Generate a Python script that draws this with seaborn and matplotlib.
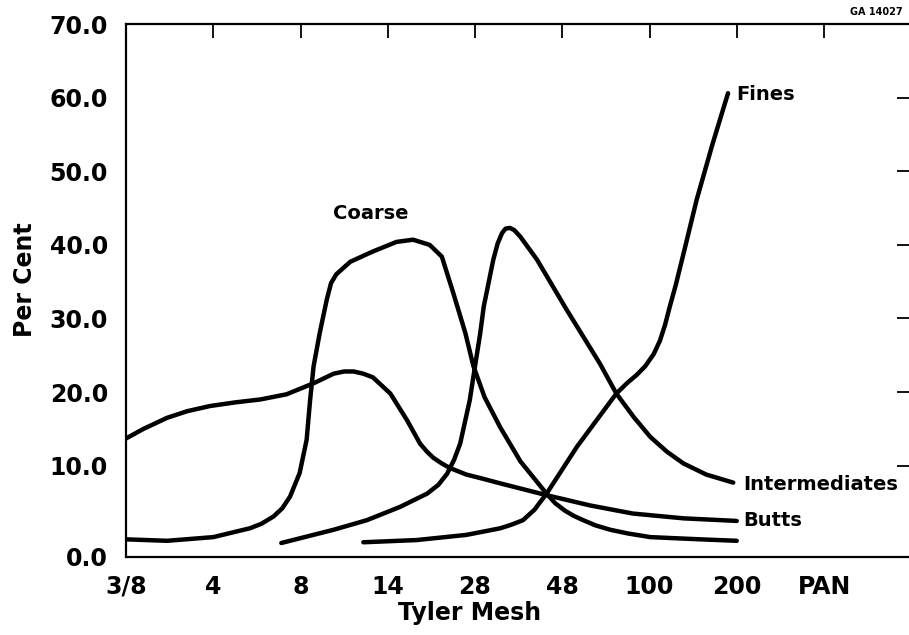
import matplotlib
matplotlib.use("Agg")
import matplotlib.pyplot as plt
import seaborn as sns
import pandas as pd

# ---- data (x in mesh-category index units, y in per cent) ----
mesh_labels = ["3/8", "4", "8", "14", "28", "48", "100", "200", "PAN"]
y_tick_values = [-2.36, 10, 20, 30, 40, 50, 60, 70]
y_tick_labels = ["0.0", "10.0", "20.0", "30.0", "40.0", "50.0", "60.0", "70.0"]

butts_x = [0.0, 0.2, 0.47, 0.7, 0.96, 1.25, 1.54, 1.84, 2.15, 2.38, 2.50, 2.61, 2.72,
           2.83, 3.03, 3.22, 3.37, 3.45, 3.52, 3.62, 3.71, 3.90, 4.10, 4.29, 4.82,
           5.32, 5.81, 6.39, 7.0]
butts_y = [13.7, 15.0, 16.5, 17.4, 18.1, 18.6, 19.0, 19.7, 21.2, 22.5, 22.8, 22.8, 22.5,
           22.0, 19.8, 16.2, 13.0, 11.9, 11.1, 10.3, 9.7, 8.8, 8.2, 7.6, 6.0,
           4.6, 3.5, 2.85, 2.5]

coarse_x = [0.0, 0.47, 1.0, 1.42, 1.55, 1.69, 1.79, 1.88, 1.99, 2.07, 2.11, 2.15, 2.22,
            2.30, 2.35, 2.41, 2.57, 2.83, 3.10, 3.29, 3.48, 3.62, 3.75, 3.89, 3.98,
            4.11, 4.29, 4.52, 4.82, 4.92, 5.03, 5.13, 5.24, 5.38, 5.55, 5.75, 6.01,
            6.58, 7.0]
coarse_y = [0.0, -0.2, 0.3, 1.5, 2.1, 3.1, 4.2, 5.8, 9.0, 13.5, 18.9, 23.5, 28.0,
            32.5, 34.8, 36.0, 37.7, 39.1, 40.4, 40.7, 40.0, 38.4, 33.5, 28.0, 23.6,
            19.3, 15.2, 10.6, 6.2, 4.9, 3.9, 3.2, 2.6, 1.9, 1.3, 0.8, 0.3,
            0.0, -0.2]

inter_x = [1.78, 2.38, 2.76, 3.14, 3.45, 3.58, 3.68, 3.76, 3.83, 3.94, 4.0, 4.06, 4.10,
           4.21, 4.26, 4.31, 4.35, 4.40, 4.45, 4.52, 4.71, 5.05, 5.43, 5.62, 5.82,
           6.01, 6.20, 6.39, 6.65, 6.96]
inter_y = [-0.5, 1.3, 2.6, 4.4, 6.2, 7.4, 8.9, 10.8, 13.0, 18.9, 23.5, 28.0, 31.6,
           38.0, 40.2, 41.6, 42.2, 42.3, 42.0, 41.1, 38.0, 31.2, 23.9, 19.8, 16.6,
           13.9, 11.9, 10.3, 8.8, 7.7]

fines_x = [2.72, 3.33, 3.90, 4.29, 4.42, 4.55, 4.68, 4.82, 5.17, 5.62, 5.75, 5.85,
           5.95, 6.05, 6.12, 6.18, 6.23, 6.30, 6.40, 6.54, 6.72, 6.90]
fines_y = [-0.4, -0.1, 0.6, 1.5, 2.0, 2.6, 4.0, 6.2, 12.6, 19.8, 21.3, 22.3,
           23.5, 25.2, 27.0, 29.2, 31.5, 34.5, 39.3, 46.1, 53.6, 60.6]

series = {"Butts": (butts_x, butts_y), "Coarse": (coarse_x, coarse_y),
          "Intermediates": (inter_x, inter_y), "Fines": (fines_x, fines_y)}
frames = [pd.DataFrame({"series": k, "x": v[0], "y": v[1]}) for k, v in series.items()]
df = pd.concat(frames, ignore_index=True)

# ---- style ----
sns.set_style("white")
plt.rcParams["font.family"] = ["DejaVu Sans"]
plt.rcParams["font.weight"] = "bold"
plt.rcParams["text.color"] = "black"
plt.rcParams["axes.labelcolor"] = "black"
plt.rcParams["xtick.color"] = "black"
plt.rcParams["ytick.color"] = "black"

fig = plt.figure(figsize=(9.09, 6.35), dpi=100)
ax = fig.add_axes([126 / 909, (635 - 556.7) / 635, 785.25 / 909, (556.7 - 24) / 635])

sns.lineplot(data=df, x="x", y="y", hue="series", units="series", estimator=None,
             sort=False, palette=["black"] * 4, legend=False, linewidth=3.2,
             solid_capstyle="round", solid_joinstyle="round", ax=ax)

ax.set_xlim(0, 9.0)
ax.set_ylim(-2.36, 70)
ax.set_xticks(range(len(mesh_labels)))
ax.set_xticklabels(mesh_labels)
ax.set_yticks(y_tick_values)
ax.set_yticklabels(y_tick_labels)

for s in ax.spines.values():
    s.set_visible(True)
    s.set_linewidth(1.6)
    s.set_color("black")

ax.tick_params(axis="both", direction="in", length=10, width=1.3, colors="black",
               top=True, right=True, labelsize=17)
ax.tick_params(axis="y", pad=13)
ax.tick_params(axis="x", pad=13)
for lab in ax.get_xticklabels() + ax.get_yticklabels():
    lab.set_fontweight("bold")
    lab.set_color("black")

ax.set_xlabel("Tyler Mesh", fontsize=17, fontweight="bold", color="black")
ax.set_ylabel("Per Cent", fontsize=17, fontweight="bold", color="black")
ax.xaxis.set_label_coords(0.438, -0.083)
ax.yaxis.set_label_coords(-0.113, 0.52)

lab_kw = dict(fontsize=14, fontweight="bold", color="black")
ax.text(2.80, 44.3, "Coarse", ha="center", va="center", **lab_kw)
ax.text(7.0, 60.4, "Fines", ha="left", va="center", **lab_kw)
ax.text(7.07, 7.4, "Intermediates", ha="left", va="center", **lab_kw)
ax.text(7.07, 2.6, "Butts", ha="left", va="center", **lab_kw)

fig.text(850 / 909, 1 - 12 / 635, "GA 14027", ha="left", va="center",
         fontsize=7, fontweight="bold", color="black")

fig.savefig("out.png", dpi=100)
